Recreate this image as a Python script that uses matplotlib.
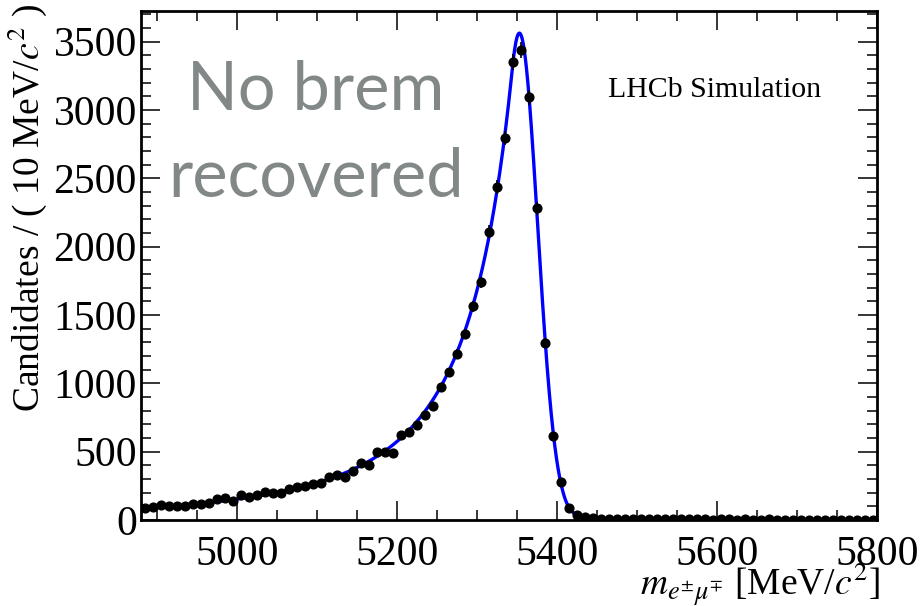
import numpy as np
import matplotlib
matplotlib.use("Agg")
import matplotlib.pyplot as plt
from matplotlib.ticker import MultipleLocator

plt.rcParams['font.family'] = ['Liberation Serif', 'DejaVu Serif']
plt.rcParams['mathtext.fontset'] = 'stix'

# histogram binning (10 MeV bins)
m_lo, m_hi, bin_w = 4880, 5800, 10

# candidates per bin, 4885 ... 5795
counts = [86, 98, 110, 100, 104, 104, 117, 118, 122, 154,
          159, 141, 183, 171, 183, 203, 195, 196, 225, 244,
          249, 264, 273, 313, 330, 317, 361, 420, 403, 500,
          500, 493, 622, 645, 696, 766, 835, 971, 1081, 1215,
          1362, 1565, 1740, 2111, 2436, 2795, 3349, 3441, 3092, 2282,
          1294, 612, 278, 88, 37, 22, 14, 10, 8, 7,
          6, 5, 6, 5, 4, 5, 5, 4, 4, 5, 4, 3, 4, 4, 3, 4,
          3, 3, 4, 3, 3, 3, 2, 3, 3, 2, 3, 2, 3, 2, 2, 3]

# double-sided Crystal Ball fit result
fit_height = 3563
fit_mu = 5353.0
fit_sigma = 22.8
fit_aL, fit_nL = 0.4, 2.5
fit_aR, fit_nR = 2.5, 10.0


def dscb(m, mu, sigma, aL, nL, aR, nR):
    t = (m - mu) / sigma
    out = np.exp(-0.5 * t**2)
    left = t < -aL
    AL = (nL / aL)**nL * np.exp(-0.5 * aL**2)
    BL = nL / aL - aL
    out[left] = AL * (BL - t[left])**(-nL)
    right = t > aR
    AR = (nR / aR)**nR * np.exp(-0.5 * aR**2)
    BR = nR / aR - aR
    out[right] = AR * (BR + t[right])**(-nR)
    return out


centers = np.arange(m_lo + bin_w / 2, m_hi, bin_w)
counts = np.array(counts, dtype=float)
errs = np.sqrt(counts)

m_fine = np.linspace(m_lo, m_hi, 2000)
fit_curve = fit_height * dscb(m_fine, fit_mu, fit_sigma, fit_aL, fit_nL, fit_aR, fit_nR)

fig = plt.figure(figsize=(9.21, 6.06), dpi=100)
ax = fig.add_axes([141 / 921, 1 - 520 / 606, 736 / 921, 509 / 606])

ax.plot(m_fine, fit_curve, color='#0000ff', lw=2.4, zorder=2)
ax.errorbar(centers, counts, xerr=bin_w / 2, yerr=errs, fmt='o', color='black',
            ms=6.3, elinewidth=1.2, capsize=0, zorder=3)

ax.set_xlim(m_lo, m_hi)
ax.set_ylim(0, 3725)

ax.xaxis.set_major_locator(MultipleLocator(200))
ax.xaxis.set_minor_locator(MultipleLocator(50))
ax.yaxis.set_major_locator(MultipleLocator(500))
ax.yaxis.set_minor_locator(MultipleLocator(100))
ax.tick_params(which='both', direction='in', top=True, right=True, width=1.1)
ax.tick_params(which='major', length=14, labelsize=30)
ax.tick_params(which='minor', length=7)
ax.tick_params(axis='x', pad=11)
ax.tick_params(axis='y', pad=3)
for s in ax.spines.values():
    s.set_linewidth(2)

# axis titles sit at the far ends of the axes
fig.text(27 / 921, 1 - 4 / 606, r'Candidates / ( 10 MeV/$c^{2}$ )', rotation=90,
         ha='center', va='top', fontsize=27)
fig.text(880 / 921, 1 - 596 / 606, r'$m_{e^{\pm}\mu^{\mp}}$ [MeV/$c^{2}$]',
         ha='right', va='baseline', fontsize=27)

ax.text(0.635, 0.845, 'LHCb Simulation', transform=ax.transAxes, fontsize=21.5,
        ha='left', va='center')
for line, base_px in [('No brem', 110), ('recovered', 197)]:
    ax.text(0.238, (520 - base_px) / 509, line, transform=ax.transAxes,
            fontsize=48, family='Lato', color='#828888', ha='center', va='baseline')

fig.savefig('out.png', dpi=100)
